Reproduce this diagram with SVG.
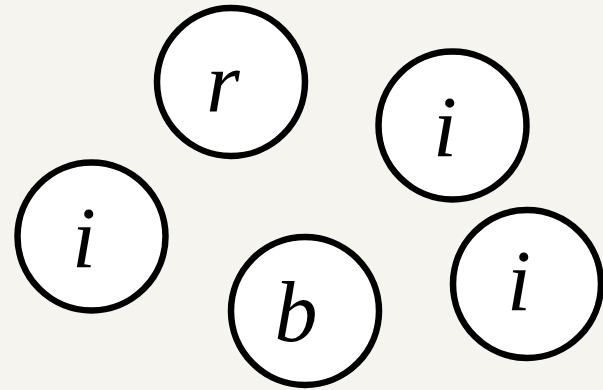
<svg xmlns="http://www.w3.org/2000/svg" width="603" height="390" viewBox="0 0 603 390">
<style>
.n{fill:#ffffff;stroke:#000000;stroke-width:6.5}
.t{font-family:"Liberation Serif","DejaVu Serif",serif;font-style:italic;font-size:86px;fill:#000000;text-anchor:middle}
</style>
<rect width="603" height="390" fill="#f5f4ef"/>
<g id="connectors"></g>
<g id="node-r"><circle class="n" cx="231" cy="82" r="74"/><text class="t" x="223" y="112">r</text></g>
<g id="node-i1"><circle class="n" cx="452.5" cy="125.5" r="74"/><text class="t" x="445" y="156">i</text></g>
<g id="node-i2"><circle class="n" cx="91.5" cy="236.5" r="74"/><text class="t" x="84" y="267">i</text></g>
<g id="node-b"><circle class="n" cx="305" cy="311" r="74"/><text class="t" x="296" y="341">b</text></g>
<g id="node-i3"><circle class="n" cx="527" cy="284" r="74"/><text class="t" x="519" y="310">i</text></g>
</svg>
